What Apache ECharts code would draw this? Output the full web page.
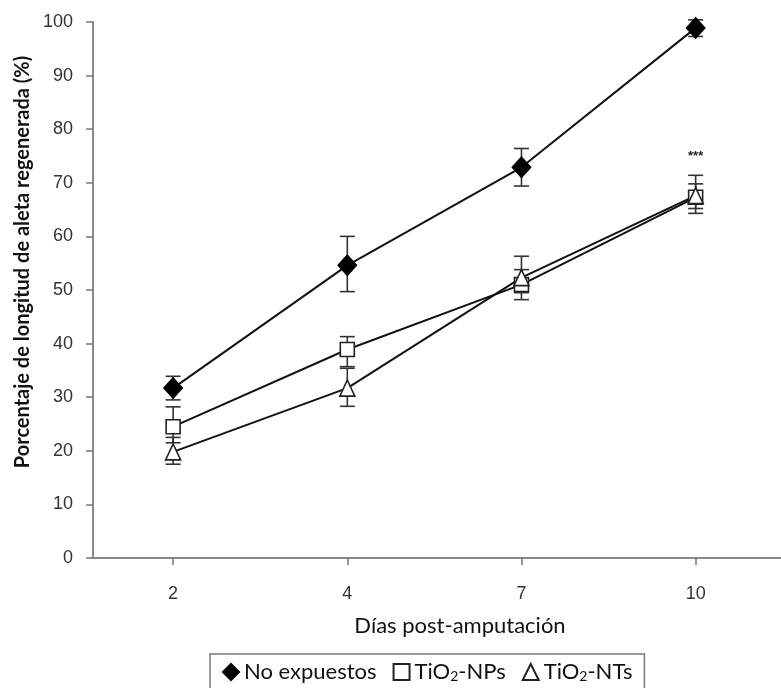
<!DOCTYPE html>
<html>
<head>
<meta charset="utf-8">
<script src="https://cdn.jsdelivr.net/npm/echarts@6/dist/echarts.min.js"></script>
<style>
  html, body { margin: 0; padding: 0; background: #fff; }
  #chart { width: 781px; height: 688px; }
</style>
</head>
<body>
<div id="chart"></div>
<script>
// days after amputation (x categories)
const days = ['2', '4', '7', '10'];
const yTicks = [0, 10, 20, 30, 40, 50, 60, 70, 80, 90, 100];

// % regenerated fin length, with error bar ends
const noExp = [31.7, 54.6, 72.9, 98.9];
const noExpLow = [29.5, 49.7, 69.4, 97.3];
const noExpHigh = [33.9, 60.0, 76.4, 100.4];

const nps = [24.5, 38.9, 51.0, 67.3];
const npsLow = [21.5, 35.7, 48.2, 64.3];
const npsHigh = [28.2, 41.3, 53.8, 71.4];

const nts = [19.8, 31.7, 52.3, 67.6];
const ntsLow = [17.5, 28.3, 49.5, 65.2];
const ntsHigh = [22.5, 35.4, 56.3, 69.8];

// significance marks shown above the day-10 bars
const signif = ['', '', '', '***'];

const names = ['No expuestos', 'TiO2-NPs', 'TiO2-NTs'];
const fontTxt = 'Lato, "Open Sans", sans-serif';
const fontNum = '"Liberation Sans", Arial, sans-serif';

const pts = arr => arr.map((v, i) => [i, v]);

function errSeries(low, high, marks) {
  return {
    type: 'custom',
    z: 1,
    silent: true,
    data: low.map((v, i) => [i, v, high[i]]),
    renderItem(params, api) {
      const lo = api.coord([api.value(0), api.value(1)]);
      const hi = api.coord([api.value(0), api.value(2)]);
      const w = 7.5;
      const st = { stroke: '#333', lineWidth: 1.6 };
      const children = [
        { type: 'line', shape: { x1: lo[0], y1: lo[1], x2: hi[0], y2: hi[1] }, style: st },
        { type: 'line', shape: { x1: lo[0] - w, y1: lo[1], x2: lo[0] + w, y2: lo[1] }, style: st },
        { type: 'line', shape: { x1: hi[0] - w, y1: hi[1], x2: hi[0] + w, y2: hi[1] }, style: st }
      ];
      const m = marks ? marks[params.dataIndex] : '';
      if (m) {
        children.push({
          type: 'text',
          x: hi[0], y: hi[1] - 19,
          style: { text: m, fill: '#222', font: 'bold 13px ' + fontNum, align: 'center', verticalAlign: 'middle' }
        });
      }
      return { type: 'group', children };
    }
  };
}

const lineStyle = { color: '#111', width: 2 };

const chart = echarts.init(document.getElementById('chart'));
chart.setOption({
  animation: false,
  backgroundColor: '#fff',
  grid: { left: 93, right: 0, top: 22, bottom: 130 },
  legend: {
    left: 210,
    top: 654,
    padding: [7, 12, 30, 12],
    borderColor: '#777',
    borderWidth: 1.5,
    itemGap: 16,
    itemWidth: 16,
    itemHeight: 16,
    data: [
      { name: names[0], icon: 'diamond' },
      { name: names[1], icon: 'rect' },
      { name: names[2], icon: 'triangle' }
    ],
    formatter(n) {
      if (n.indexOf('TiO2') === 0) return '{t|TiO}{s|2}{t|' + n.slice(4) + '}';
      return '{t|' + n + '}';
    },
    textStyle: {
      rich: {
        t: { fontFamily: fontTxt, fontSize: 22, color: '#111' },
        s: { fontFamily: fontTxt, fontSize: 14, color: '#111', verticalAlign: 'bottom', padding: [9, 0, 0, 0] }
      }
    }
  },
  xAxis: {
    type: 'value',
    min: -0.46,
    max: 3.49,
    name: 'Días post-amputación',
    nameLocation: 'middle',
    nameGap: 57,
    nameTextStyle: { fontFamily: fontTxt, fontSize: 22, color: '#111', padding: [0, 0, 0, 46] },
    axisLine: { onZero: false, lineStyle: { color: '#888', width: 2 } },
    axisTick: { show: true, customValues: [0, 1, 2, 3], length: 7, lineStyle: { color: '#777', width: 1.5 } },
    axisLabel: {
      customValues: [0, 1, 2, 3],
      formatter: v => days[v],
      margin: 27,
      fontFamily: fontNum, fontSize: 18, color: '#333'
    },
    splitLine: { show: false }
  },
  yAxis: {
    type: 'value',
    min: yTicks[0],
    max: yTicks[yTicks.length - 1],
    interval: 10,
    name: 'Porcentaje de longitud de aleta regenerada (%)',
    nameLocation: 'middle',
    nameGap: 57,
    nameTextStyle: { fontFamily: fontTxt, fontSize: 20, fontWeight: 'bold', color: '#111', padding: [0, 0, 0, 56] },
    axisLine: { show: true, onZero: false, lineStyle: { color: '#888', width: 2 } },
    axisTick: { show: true, length: 7, lineStyle: { color: '#777', width: 1.5 } },
    axisLabel: { margin: 20, fontFamily: fontNum, fontSize: 18, color: '#333' },
    splitLine: { show: false }
  },
  series: [
    errSeries(noExpLow, noExpHigh),
    errSeries(npsLow, npsHigh, signif),
    errSeries(ntsLow, ntsHigh),
    {
      name: names[0], type: 'line', z: 3, data: pts(noExp),
      symbol: 'diamond', symbolSize: [19, 21],
      lineStyle, itemStyle: { color: '#000', borderColor: '#000', borderWidth: 1 }
    },
    {
      name: names[1], type: 'line', z: 3, data: pts(nps),
      symbol: 'rect', symbolSize: 14,
      lineStyle, itemStyle: { color: '#fff', borderColor: '#222', borderWidth: 1.6 }
    },
    {
      name: names[2], type: 'line', z: 3, data: pts(nts),
      symbol: 'triangle', symbolSize: [15, 16],
      lineStyle, itemStyle: { color: '#fff', borderColor: '#222', borderWidth: 1.6 }
    }
  ]
});
</script>
</body>
</html>
